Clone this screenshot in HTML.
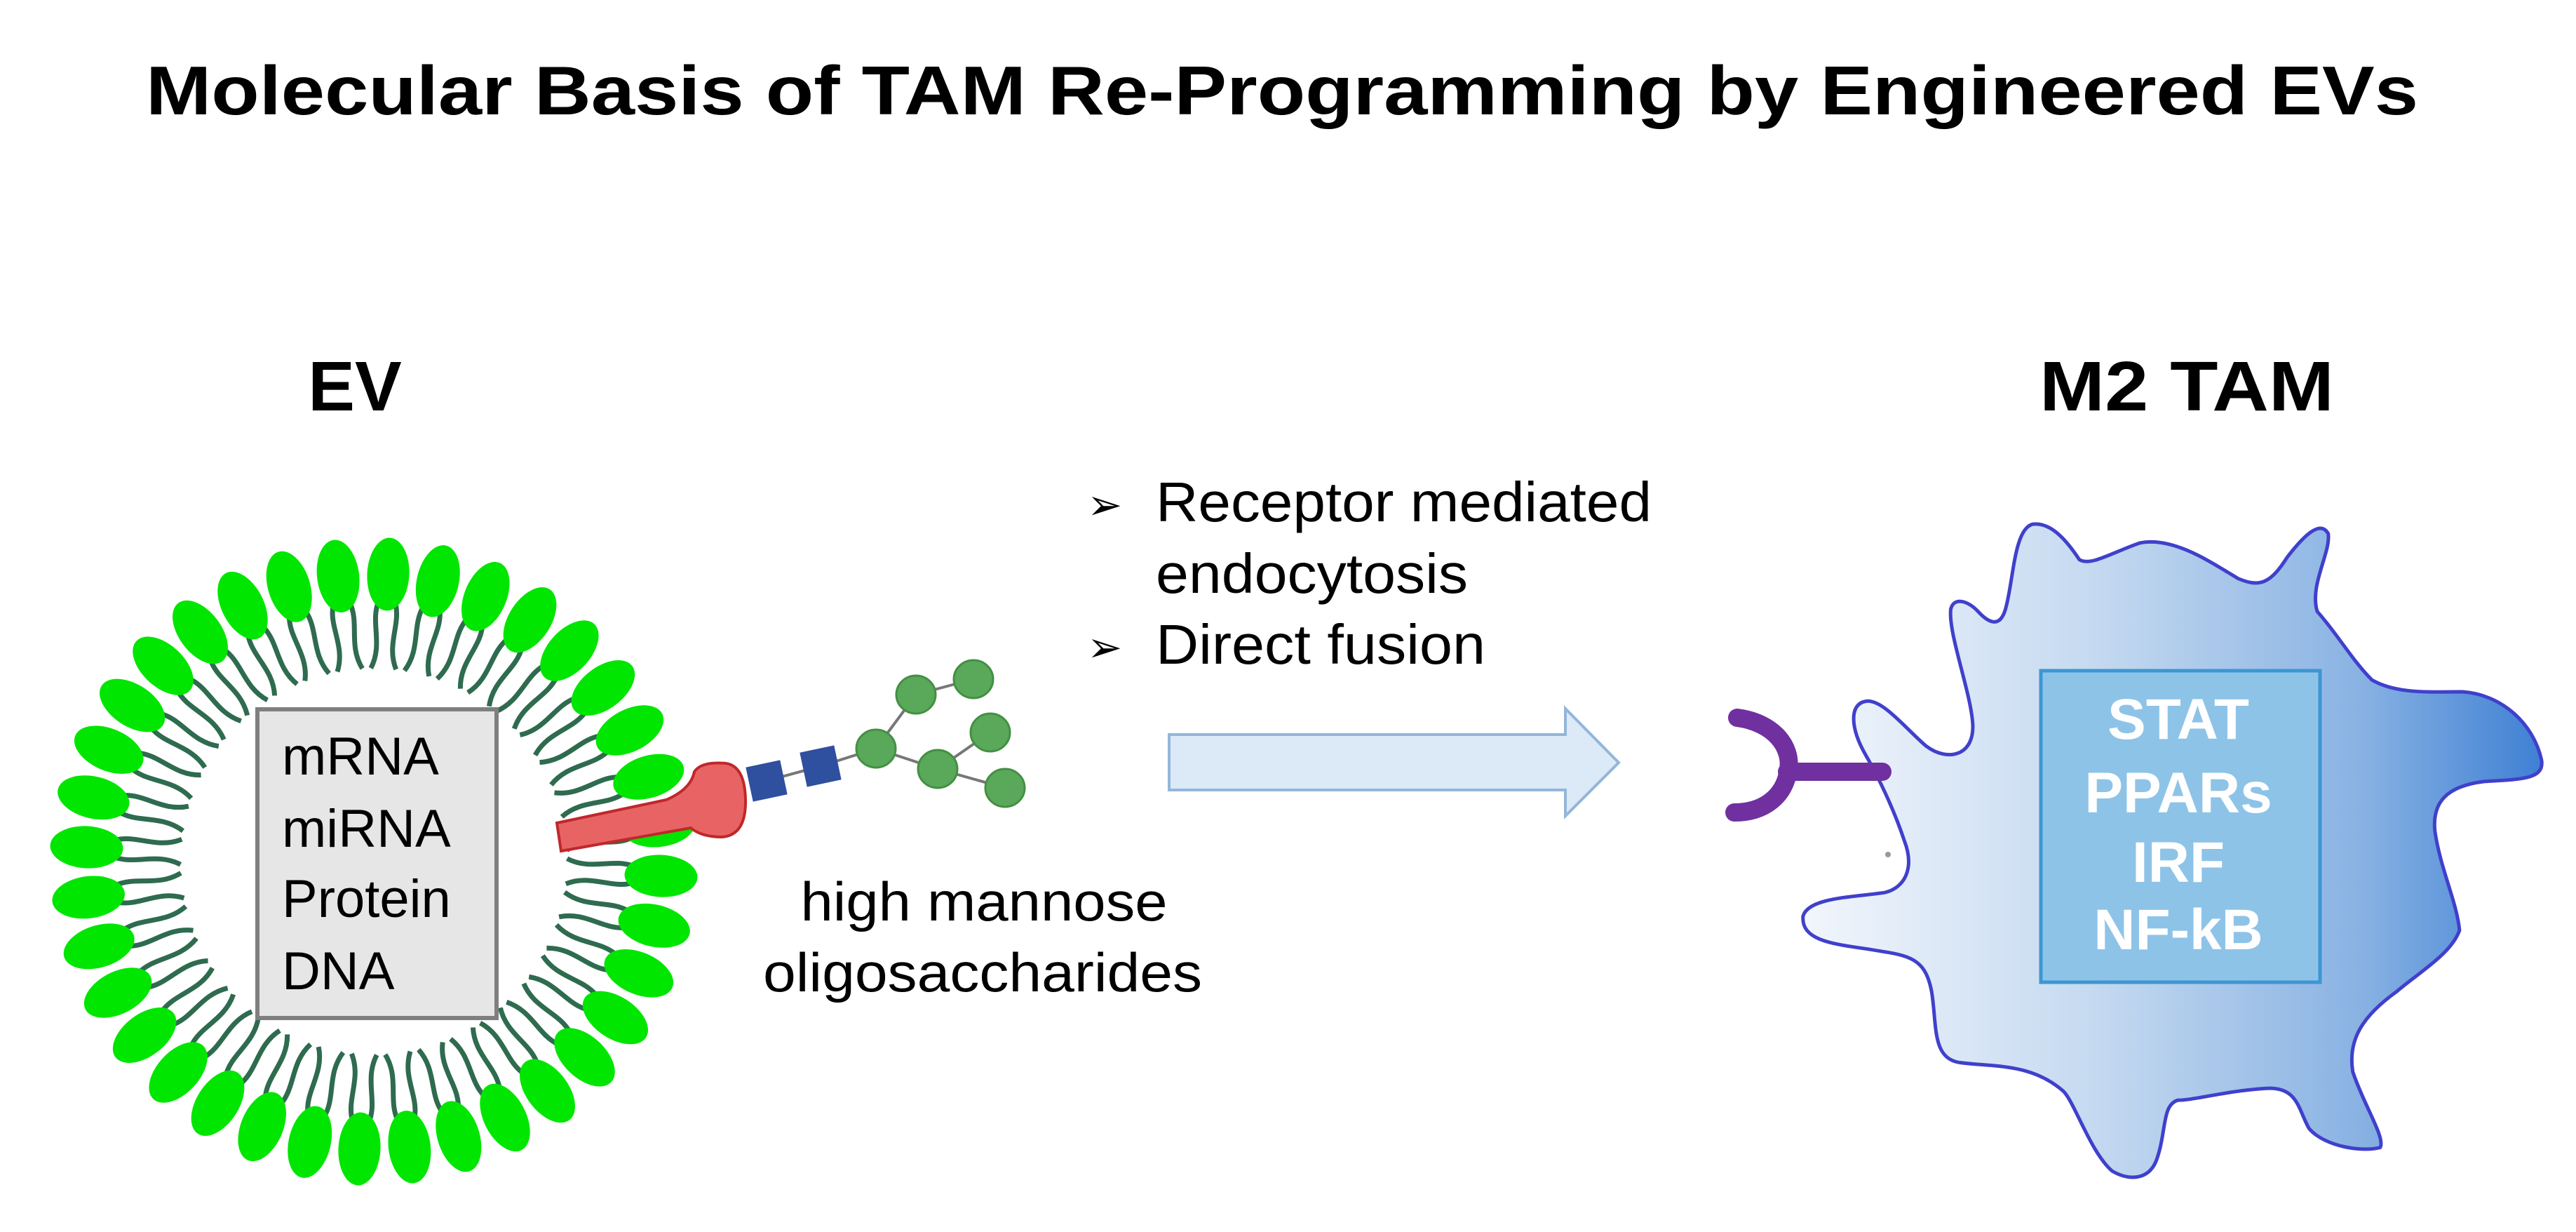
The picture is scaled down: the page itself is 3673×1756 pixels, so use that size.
<!DOCTYPE html>
<html><head><meta charset="utf-8"><style>
html,body{margin:0;padding:0;background:#fff;}
svg{display:block;}
text{font-family:"Liberation Sans",Arial,sans-serif;}
</style></head><body>
<svg id="s" width="3673" height="1756" viewBox="0 0 3673 1756" xmlns="http://www.w3.org/2000/svg">
<defs>
<linearGradient id="mg" x1="0" y1="0" x2="1" y2="0">
<stop offset="0" stop-color="#f2f6fc"/>
<stop offset="0.4" stop-color="#c4d9f0"/>
<stop offset="0.75" stop-color="#8ab3e3"/>
<stop offset="1" stop-color="#3f80d4"/>
</linearGradient>
</defs>
<rect width="3673" height="1756" fill="#fff"/>
<text x="1828" y="163" font-size="98" font-weight="bold" text-anchor="middle" textLength="3240" lengthAdjust="spacingAndGlyphs">Molecular Basis of TAM Re-Programming by Engineered EVs</text>
<text x="506" y="585" font-size="100" font-weight="bold" text-anchor="middle">EV</text>
<text x="3118" y="585" font-size="100" font-weight="bold" text-anchor="middle" textLength="420" lengthAdjust="spacingAndGlyphs">M2 TAM</text>

<text x="1550" y="740" font-size="60">➢</text>
<text x="1648" y="743" font-size="80" textLength="707" lengthAdjust="spacingAndGlyphs">Receptor mediated</text>
<text x="1648" y="845" font-size="80" textLength="445" lengthAdjust="spacingAndGlyphs">endocytosis</text>
<text x="1550" y="943" font-size="60">➢</text>
<text x="1648" y="946" font-size="80" textLength="470" lengthAdjust="spacingAndGlyphs">Direct fusion</text>

<path d="M1667,1047 L2232,1047 L2232,1010 L2308,1087 L2232,1163 L2232,1126 L1667,1126 Z" fill="#dceaf7" stroke="#93b6da" stroke-width="4"/>

<g id="lip"></g>
<rect x="367" y="1011" width="341" height="440" fill="#e6e6e6" stroke="#7f7f7f" stroke-width="6"/>
<text x="402" y="1104" font-size="76">mRNA</text>
<text x="402" y="1207" font-size="76">miRNA</text>
<text x="402" y="1307" font-size="76">Protein</text>
<text x="402" y="1410" font-size="76">DNA</text>

<path d="M794,1173 L950,1140 Q985,1125 990,1100 Q1000,1085 1035,1088 Q1062,1092 1063,1140 Q1064,1190 1030,1193 Q1000,1193 985,1180 L800,1213 Z" fill="#e86464" stroke="#c0282a" stroke-width="4"/>
<g stroke="#777" stroke-width="4" fill="none">
<line x1="1093" y1="1113" x2="1170" y2="1092"/>
<line x1="1170" y1="1092" x2="1249" y2="1067"/>
<line x1="1249" y1="1067" x2="1306" y2="990"/>
<line x1="1306" y1="990" x2="1388" y2="968"/>
<line x1="1249" y1="1067" x2="1337" y2="1096"/>
<line x1="1337" y1="1096" x2="1412" y2="1044"/>
<line x1="1337" y1="1096" x2="1433" y2="1123"/>
</g>
<rect x="1068" y="1088" width="50" height="50" fill="#2f4f9f" transform="rotate(-12 1093 1113)"/>
<rect x="1145" y="1067" width="50" height="50" fill="#2f4f9f" transform="rotate(-12 1170 1092)"/>
<g fill="#5aa85a" stroke="#448f44" stroke-width="3">
<ellipse cx="1249" cy="1067" rx="28" ry="27"/>
<ellipse cx="1306" cy="990" rx="28" ry="27"/>
<ellipse cx="1388" cy="968" rx="28" ry="27"/>
<ellipse cx="1412" cy="1044" rx="28" ry="27"/>
<ellipse cx="1337" cy="1096" rx="28" ry="27"/>
<ellipse cx="1433" cy="1123" rx="28" ry="27"/>
</g>
<text x="1403" y="1312" font-size="78" text-anchor="middle" textLength="523" lengthAdjust="spacingAndGlyphs">high mannose</text>
<text x="1401" y="1413" font-size="78" text-anchor="middle" textLength="626" lengthAdjust="spacingAndGlyphs">oligosaccharides</text>

<g transform="translate(2450,700) scale(0.78,0.673)">
<path vector-effect="non-scaling-stroke" fill="url(#mg)" stroke="#4040cc" stroke-width="5" d="M270,445 C300,440 340,500 380,540 C420,575 470,560 465,490 C460,420 420,300 425,250 C430,225 455,230 475,255 C495,280 515,290 525,250 C540,190 540,80 575,70 C610,65 640,110 660,145 C680,160 720,130 770,110 C830,95 900,150 950,185 C990,205 1010,195 1040,140 C1070,95 1100,60 1115,90 C1120,130 1080,200 1095,255 C1130,300 1160,360 1195,400 C1240,430 1300,425 1360,425 C1430,430 1490,490 1505,570 C1510,610 1470,610 1400,615 C1330,625 1305,660 1310,720 C1320,800 1350,870 1355,930 C1340,980 1280,1020 1240,1060 C1180,1110 1150,1160 1160,1230 C1180,1300 1220,1370 1210,1390 C1180,1400 1110,1390 1080,1350 C1060,1310 1060,1260 1000,1265 C930,1270 870,1290 840,1290 C810,1300 820,1360 800,1420 C785,1460 750,1460 720,1440 C680,1400 650,1290 630,1270 C570,1210 500,1220 440,1210 C390,1200 400,1130 390,1060 C380,1000 360,985 300,975 C230,960 150,960 155,900 C165,860 250,860 305,850 C340,840 360,800 340,740 C320,670 290,600 270,560 C240,500 240,450 270,445 Z"/>
</g>
<circle cx="2692" cy="1218" r="4" fill="#999"/>
<rect x="2910" y="956" width="398" height="444" fill="#8ec3e8" stroke="#3d96d2" stroke-width="5"/>
<g fill="#fff" font-weight="bold" font-size="82" text-anchor="middle">
<text x="3106" y="1053">STAT</text>
<text x="3106" y="1158">PPARs</text>
<text x="3106" y="1257">IRF</text>
<text x="3106" y="1353">NF-kB</text>
</g>
<g stroke="#7030a0" stroke-width="26" fill="none" stroke-linecap="round">
<path d="M2477,1023 C2530,1030 2555,1065 2550,1097 C2545,1135 2515,1158 2473,1158"/>
<line x1="2548" y1="1100" x2="2684" y2="1100"/>
</g>
</svg>
<script>
(function(){
var g=document.getElementById('lip');
var cx=533,cy=1228,N=36,h='';
for(var i=0;i<N;i++){
 var a=(i/N)*2*Math.PI+0.05;
 var ux=Math.cos(a),uy=Math.sin(a),px=-uy,py=ux;
 var deg=a*180/Math.PI;
 [-12,12].forEach(function(o,k){
   var w=(k?1:-1)*10;
   function P(r,off){return (cx+ux*r+px*off).toFixed(1)+','+(cy+uy*r+py*off).toFixed(1);}
   h+='<path d="M'+P(370,o)+' C'+P(340,o+w)+' '+P(310,o-w)+' '+P(275,o+w*0.6)+'" stroke="#2e6b4f" stroke-width="7" fill="none"/>';
 });
 var ex=(cx+ux*410).toFixed(1),ey=(cy+uy*410).toFixed(1);
 h+='<ellipse cx="'+ex+'" cy="'+ey+'" rx="52" ry="30" fill="#00e600" transform="rotate('+deg.toFixed(1)+' '+ex+' '+ey+')"/>';
}
g.innerHTML=h;
})();
</script>
</body></html>
